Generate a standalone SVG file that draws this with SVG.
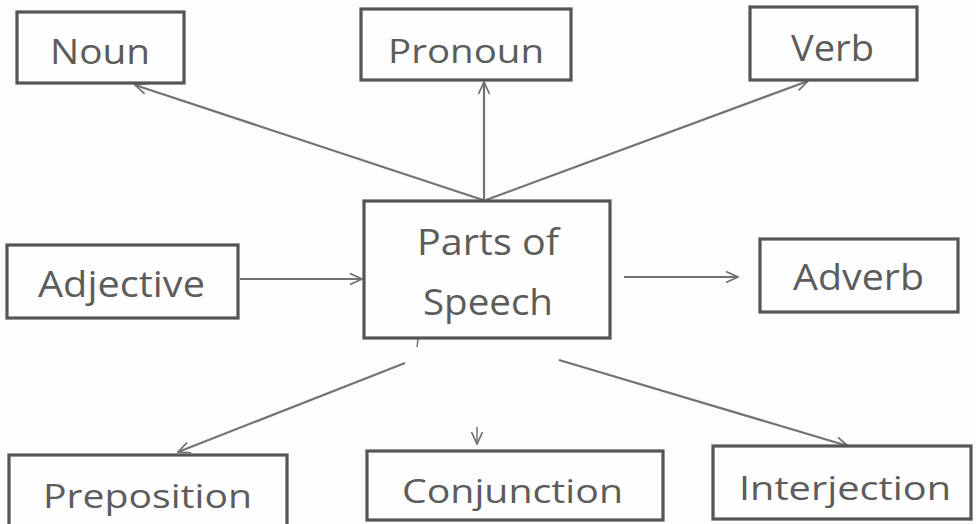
<svg xmlns="http://www.w3.org/2000/svg" width="976" height="524" viewBox="0 0 976 524">
<defs>
<marker id="ah" viewBox="0 0 14 14" refX="13" refY="7" markerWidth="14" markerHeight="14" markerUnits="userSpaceOnUse" orient="auto">
<path d="M1,1.5 L13,7 L1,12.5" fill="none" stroke="#6f6f6f" stroke-width="1.7"/>
</marker>
<style>
.box{fill:#fefefe;stroke:#555;stroke-width:3.2}
.lbl{font-family:"Open Sans","Noto Sans",sans-serif;fill:#5c5c5c}
.c{stroke:#737373;stroke-width:2.2;fill:none;marker-end:url(#ah)}
.mark{stroke:#737373;stroke-width:1.5;fill:none}
</style>
</defs>
<rect width="976" height="524" fill="#fdfdfd"/>
<g id="connectors">
<line class="c" x1="483" y1="200" x2="135" y2="85"/>
<line class="c" x1="484" y1="200" x2="484" y2="82"/>
<line class="c" x1="486" y1="200" x2="808" y2="81"/>
<line class="c" x1="240" y1="279" x2="362" y2="279"/>
<line class="c" x1="624" y1="277" x2="738" y2="277"/>
<line class="c" x1="405" y1="363" x2="178" y2="452"/>
<line class="c" x1="477" y1="427" x2="477" y2="444" style="stroke-width:1.5"/>
<line class="c" x1="559" y1="360" x2="848" y2="446"/>
<line class="mark" x1="418" y1="339" x2="417" y2="347"/>
</g>
<g id="noun"><rect class="box" x="17" y="12" width="167" height="71"/><text class="lbl" x="50" y="64" font-size="34" textLength="100" lengthAdjust="spacingAndGlyphs">Noun</text></g>
<g id="pronoun"><rect class="box" x="361" y="9" width="210" height="71"/><text class="lbl" x="388" y="63" font-size="33" textLength="156" lengthAdjust="spacingAndGlyphs">Pronoun</text></g>
<g id="verb"><rect class="box" x="750" y="7" width="167" height="73"/><text class="lbl" x="791" y="61" font-size="37" textLength="83" lengthAdjust="spacingAndGlyphs">Verb</text></g>
<g id="parts-of-speech"><rect class="box" x="364" y="201" width="246" height="137"/><text class="lbl" x="417" y="255" font-size="37" textLength="142" lengthAdjust="spacingAndGlyphs">Parts of</text><text class="lbl" x="423" y="315" font-size="37" textLength="130" lengthAdjust="spacingAndGlyphs">Speech</text></g>
<g id="adjective"><rect class="box" x="7" y="245" width="231" height="73"/><text class="lbl" x="38" y="297" font-size="37" textLength="167" lengthAdjust="spacingAndGlyphs">Adjective</text></g>
<g id="adverb"><rect class="box" x="760" y="239" width="198" height="73"/><text class="lbl" x="793" y="290" font-size="37" textLength="131" lengthAdjust="spacingAndGlyphs">Adverb</text></g>
<g id="preposition"><rect class="box" x="9" y="455" width="278" height="80"/><text class="lbl" x="43" y="508" font-size="32" textLength="209" lengthAdjust="spacingAndGlyphs">Preposition</text></g>
<g id="conjunction"><rect class="box" x="367" y="451" width="296" height="69"/><text class="lbl" x="402" y="503" font-size="32" textLength="221" lengthAdjust="spacingAndGlyphs">Conjunction</text></g>
<g id="interjection"><rect class="box" x="713" y="446" width="258" height="73"/><text class="lbl" x="739" y="500" font-size="32" textLength="212" lengthAdjust="spacingAndGlyphs">Interjection</text></g>
</svg>
